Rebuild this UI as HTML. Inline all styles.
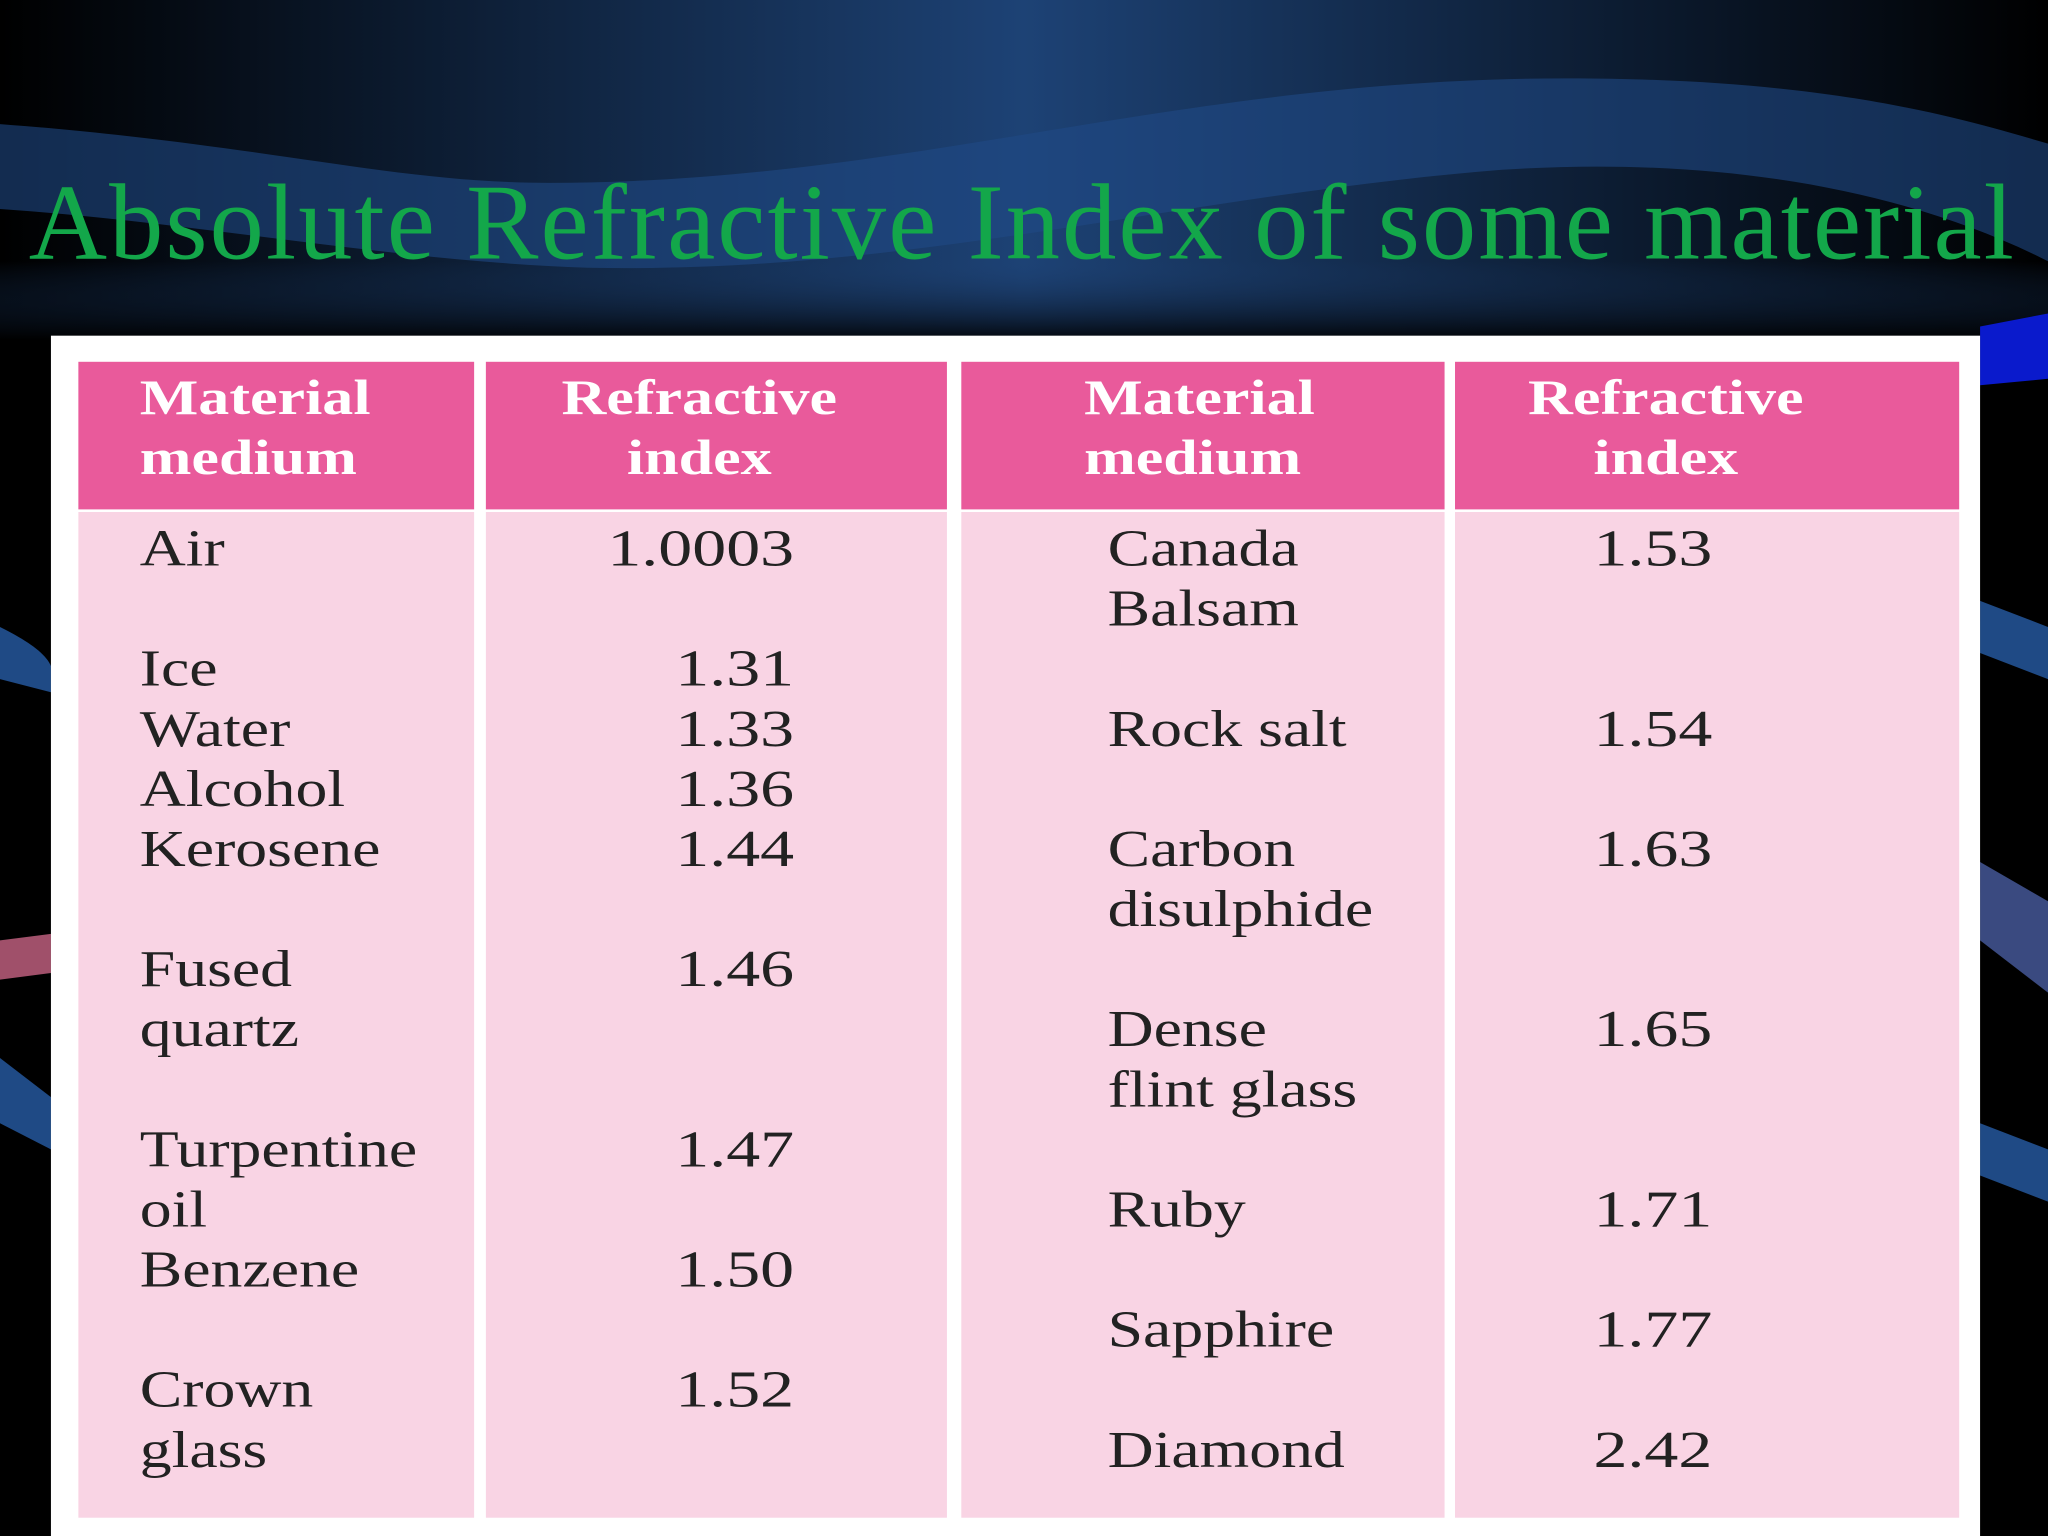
<!DOCTYPE html>
<html><head><meta charset="utf-8"><style>
html,body{margin:0;padding:0;width:2048px;height:1536px;overflow:hidden;background:#000}
#s{position:absolute;left:0;top:0;width:1568px;height:1176px;transform:scale(1.306122);transform-origin:0 0;font-family:"Liberation Serif",serif}
.t{position:absolute;font-size:40px;color:#222;line-height:46px;white-space:nowrap}
.n{transform:scaleX(1.22);transform-origin:0 50%}
.v{transform:scaleX(1.3);transform-origin:100% 50%}
.h{position:absolute;top:277px;height:113px;background:#e95a9b;color:#fff;font-weight:bold;font-size:38px;line-height:46px;text-align:center;box-sizing:border-box;padding-top:5px}
.h span{display:inline-block;transform:scaleX(1.25);transform-origin:50% 50%}
.h.l span{transform-origin:0 50%}
.b{position:absolute;top:392px;height:770px;background:#f9d4e4}
</style></head><body>
<div id="s">
<svg width="1568" height="1176" style="position:absolute;left:0;top:0">
<defs><linearGradient id="g" x1="0" x2="1" y1="0" y2="0"><stop offset="0" stop-color="#000"/><stop offset="0.5" stop-color="#1d4275"/><stop offset="1" stop-color="#000"/></linearGradient>
<linearGradient id="g2" x1="0" x2="0" y1="0" y2="1"><stop offset="0" stop-color="#1d4275" stop-opacity="0"/><stop offset="1" stop-color="#000" stop-opacity="0.9"/></linearGradient></defs>
<rect width="1568" height="260" fill="url(#g)"/>
<path d="M0,95 C200,110 300,140 420,140 C700,140 900,60 1200,60 C1400,60 1500,90 1568,110 L1568,200 C1450,140 1300,120 1150,130 C900,150 700,210 450,205 C300,200 150,170 0,160Z" fill="#1f4a85" opacity="0.6"/>
<rect y="200" width="1568" height="60" fill="url(#g2)"/>
<path d="M1516,250 L1568,240 L1568,290 L1516,295Z" fill="#0a1acc"/>
<path d="M0,480 C20,490 35,500 39,510 L39,530 L0,520Z" fill="#1f4a85"/>
<path d="M0,720 L39,715 L39,745 L0,750Z" fill="#a0506a"/>
<path d="M0,810 L39,840 L39,880 L0,860Z" fill="#1f4a85"/>
<path d="M1516,460 L1568,480 L1568,520 L1516,500Z" fill="#1f4a85"/>
<path d="M1516,660 L1568,690 L1568,760 L1516,720Z" fill="#3a4a80"/>
<path d="M1516,860 L1568,880 L1568,920 L1516,900Z" fill="#1f4a85"/>
</svg>
<div style="position:absolute;left:22px;top:120px;font-size:83px;color:#13a74a;white-space:nowrap;line-height:100px;letter-spacing:1.6px">Absolute Refractive Index of some material</div>
<div style="position:absolute;left:39px;top:257px;width:1477px;height:919px;background:#fff"></div>
<div class="h l" style="left:60px;width:303px;text-align:left;padding-left:47px"><span>Material<br>medium</span></div>
<div class="h" style="left:372px;width:353px;padding-right:26px"><span>Refractive<br>index</span></div>
<div class="h l" style="left:736px;width:370px;text-align:left;padding-left:94px"><span>Material<br>medium</span></div>
<div class="h" style="left:1114px;width:386px;padding-right:64px"><span>Refractive<br>index</span></div>
<div class="b" style="left:60px;width:303px"></div>
<div class="b" style="left:372px;width:353px"></div>
<div class="b" style="left:736px;width:370px"></div>
<div class="b" style="left:1114px;width:386px"></div>
<div id="cells"></div>
</div>
<script>
const leftNames=[[0,"Air"],[2,"Ice"],[3,"Water"],[4,"Alcohol"],[5,"Kerosene"],[7,"Fused"],[8,"quartz"],[10,"Turpentine"],[11,"oil"],[12,"Benzene"],[14,"Crown"],[15,"glass"]];
const leftVals=[[0,"1.0003"],[2,"1.31"],[3,"1.33"],[4,"1.36"],[5,"1.44"],[7,"1.46"],[10,"1.47"],[12,"1.50"],[14,"1.52"]];
const rightNames=[[0,"Canada"],[1,"Balsam"],[3,"Rock salt"],[5,"Carbon"],[6,"disulphide"],[8,"Dense"],[9,"flint glass"],[11,"Ruby"],[13,"Sapphire"],[15,"Diamond"]];
const rightVals=[[0,"1.53"],[3,"1.54"],[5,"1.63"],[8,"1.65"],[11,"1.71"],[13,"1.77"],[15,"2.42"]];
const c=document.getElementById('cells');
function put(list,x,right,name){
 list.forEach(([i,txt])=>{
  const d=document.createElement('div');d.className='t '+(right?'v':'n');
  
  
  d.textContent=txt;d.style.top=(397+46*i)+'px';
  if(right){d.style.right=(1568-x)+'px';}else{d.style.left=x+'px';}
  c.appendChild(d);
 });
}
put(leftNames,107,false,'material-name');
put(leftVals,608,true,'refractive-index-value');
put(rightNames,848,false,'material-name');
put(rightVals,1311,true,'refractive-index-value');
</script>
</body></html>
